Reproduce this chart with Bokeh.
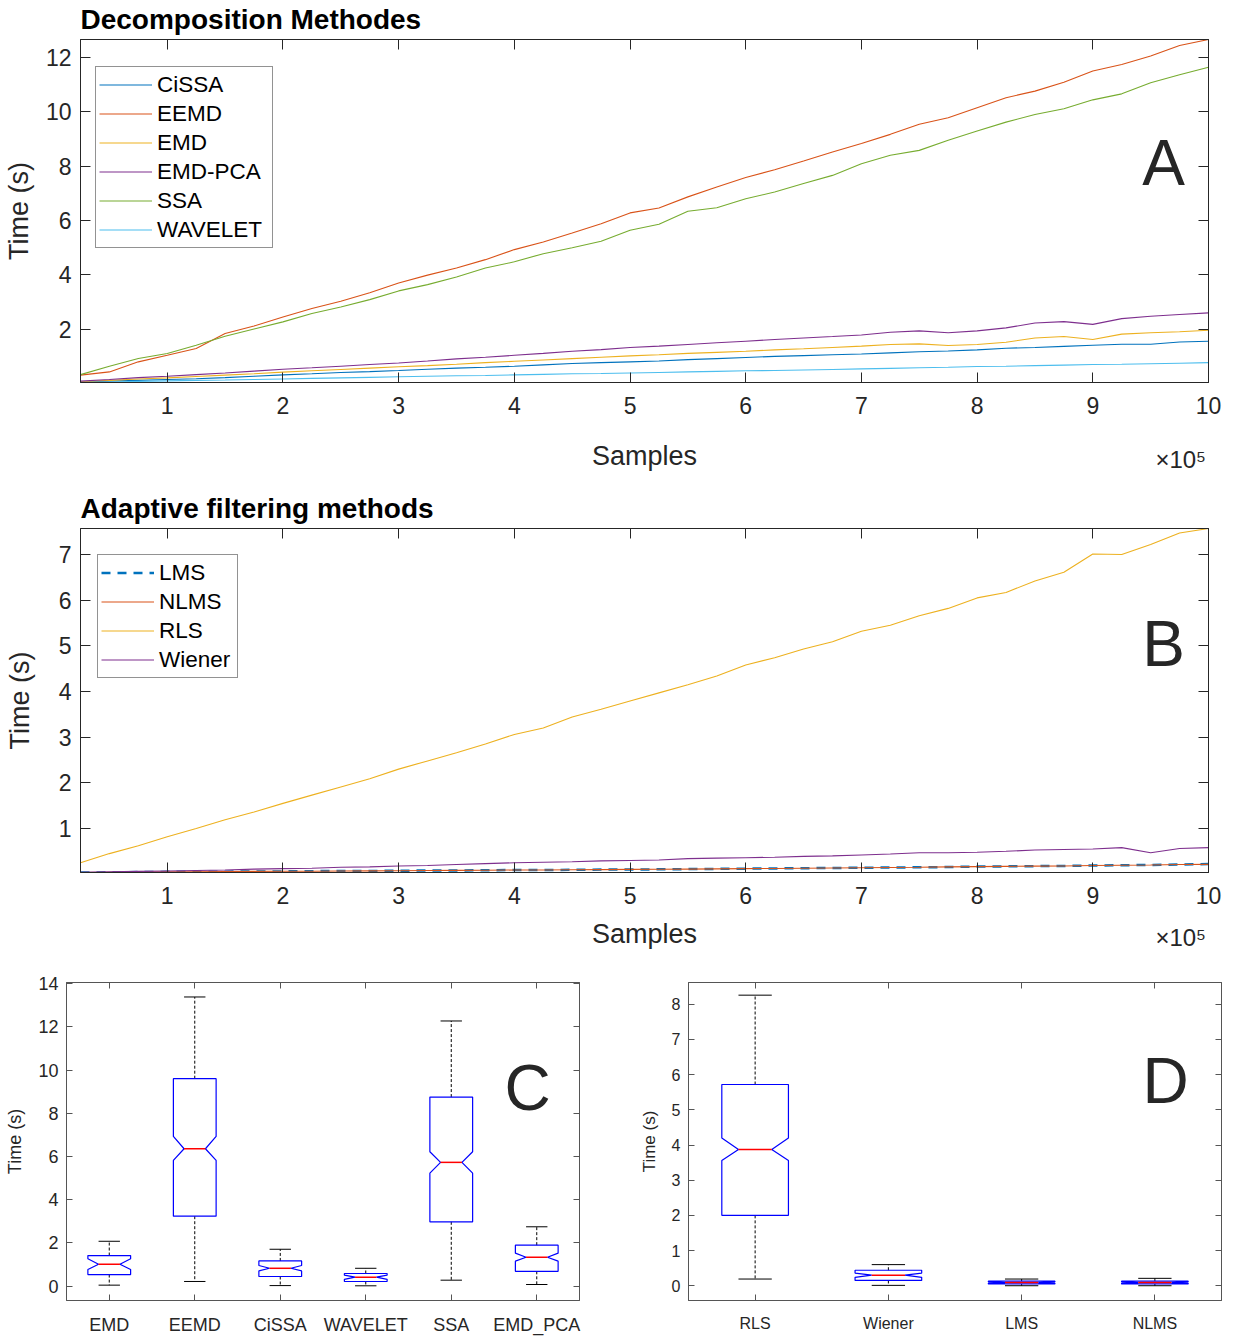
from bokeh.plotting import figure
from bokeh.models import (Range1d, LinearAxis, FixedTicker, Legend, LegendItem, Label,
                          CustomLabelingPolicy)
from bokeh.layouts import column, row
from bokeh.embed import file_html
from bokeh.resources import INLINE

# ---------------- data ----------------
samples = list(range(25000, 1000001, 25000))  # 0.25e5 ... 10e5

cissa = [0.06,0.09,0.12,0.15,0.18,0.22,0.27,0.32,0.36,0.41,0.44,0.48,0.53,0.57,0.60,0.64,0.69,0.74,0.77,0.80,
         0.83,0.88,0.92,0.96,1.00,1.03,1.06,1.09,1.13,1.17,1.20,1.24,1.30,1.33,1.37,1.41,1.45,1.45,1.53,1.56]
eemd = [0.31,0.43,0.80,1.04,1.29,1.84,2.12,2.45,2.76,3.03,3.34,3.70,3.99,4.25,4.56,4.93,5.21,5.54,5.88,6.28,
        6.46,6.87,7.23,7.58,7.87,8.19,8.52,8.83,9.17,9.54,9.78,10.15,10.52,10.76,11.09,11.50,11.74,12.05,12.44,12.66]
emd = [0.07,0.12,0.17,0.21,0.26,0.31,0.36,0.42,0.47,0.52,0.57,0.62,0.66,0.71,0.77,0.82,0.87,0.92,0.97,1.02,
       1.06,1.11,1.15,1.19,1.24,1.28,1.33,1.38,1.44,1.46,1.40,1.44,1.52,1.68,1.73,1.62,1.82,1.87,1.91,1.96]
emd_pca = [0.09,0.15,0.22,0.27,0.33,0.39,0.46,0.53,0.58,0.64,0.70,0.76,0.83,0.91,0.97,1.04,1.11,1.19,1.25,1.33,
           1.38,1.44,1.50,1.56,1.62,1.68,1.73,1.79,1.89,1.94,1.87,1.94,2.05,2.23,2.28,2.18,2.39,2.48,2.54,2.60]
ssa = [0.33,0.64,0.92,1.11,1.41,1.74,2.01,2.27,2.58,2.82,3.09,3.41,3.64,3.92,4.25,4.48,4.78,5.00,5.24,5.64,
       5.86,6.34,6.47,6.80,7.05,7.36,7.66,8.09,8.40,8.58,8.95,9.29,9.62,9.90,10.11,10.44,10.66,11.07,11.36,11.64]
wavelet = [0.04,0.06,0.08,0.10,0.12,0.13,0.15,0.17,0.19,0.21,0.23,0.25,0.27,0.29,0.30,0.32,0.34,0.36,0.37,0.39,
           0.41,0.43,0.45,0.47,0.48,0.50,0.52,0.54,0.56,0.58,0.60,0.63,0.64,0.66,0.68,0.70,0.71,0.73,0.75,0.77]

lms = [0.036,0.04,0.045,0.05,0.05,0.055,0.06,0.06,0.065,0.07,0.07,0.075,0.08,0.08,0.085,0.09,0.09,0.095,0.10,0.10,
       0.105,0.11,0.115,0.12,0.125,0.13,0.135,0.14,0.145,0.15,0.155,0.165,0.17,0.175,0.18,0.19,0.195,0.20,0.21,0.22]
nlms = [0.037,0.04,0.045,0.05,0.052,0.055,0.06,0.062,0.065,0.07,0.072,0.075,0.08,0.082,0.085,0.09,0.092,0.095,0.10,0.105,
        0.107,0.11,0.115,0.12,0.125,0.13,0.135,0.14,0.145,0.15,0.16,0.165,0.17,0.175,0.18,0.19,0.195,0.20,0.21,0.215]
rls = [0.25,0.45,0.62,0.82,1.00,1.19,1.36,1.55,1.73,1.91,2.09,2.30,2.48,2.66,2.85,3.06,3.20,3.44,3.61,3.79,
       3.97,4.15,4.34,4.58,4.74,4.93,5.09,5.32,5.45,5.66,5.82,6.05,6.17,6.42,6.61,7.01,7.00,7.22,7.47,7.57]
wiener = [0.04,0.05,0.06,0.07,0.08,0.09,0.11,0.12,0.13,0.15,0.16,0.18,0.19,0.21,0.23,0.25,0.26,0.27,0.29,0.30,
          0.31,0.34,0.35,0.36,0.37,0.39,0.40,0.42,0.44,0.47,0.47,0.48,0.50,0.53,0.54,0.55,0.58,0.47,0.56,0.58]

x_tick_values = [100000, 200000, 300000, 400000, 500000, 600000, 700000, 800000, 900000, 1000000]
x_tick_labels = ["1", "2", "3", "4", "5", "6", "7", "8", "9", "10"]
x_exponent_label = "\u00d710\u2075"
ya_ticks = [2, 4, 6, 8, 10, 12]
yb_ticks = [1, 2, 3, 4, 5, 6, 7]

c_names = ["EMD", "EEMD", "CiSSA", "WAVELET", "SSA", "EMD_PCA"]
c_whi = [2.08, 13.38, 1.71, 0.83, 12.27, 2.75]
c_q3 = [1.42, 9.60, 1.17, 0.59, 8.75, 1.90]
c_nhi = [1.27, 6.93, 0.96, 0.51, 6.22, 1.53]
c_med = [1.02, 6.36, 0.83, 0.42, 5.73, 1.34]
c_nlo = [0.77, 5.82, 0.71, 0.32, 5.23, 1.16]
c_q1 = [0.54, 3.24, 0.45, 0.22, 2.98, 0.69]
c_wlo = [0.05, 0.22, 0.03, 0.02, 0.28, 0.08]
c_yticks = [0, 2, 4, 6, 8, 10, 12, 14]

d_names = ["RLS", "Wiener", "LMS", "NLMS"]
d_whi = [8.26, 0.60, 0.19, 0.21]
d_q3 = [5.72, 0.44, 0.13, 0.13]
d_nhi = [4.20, 0.36, 0.11, 0.11]
d_med = [3.87, 0.30, 0.09, 0.09]
d_nlo = [3.56, 0.24, 0.07, 0.07]
d_q1 = [2.00, 0.15, 0.05, 0.05]
d_wlo = [0.19, 0.01, 0.00, 0.00]
d_yticks = [0, 1, 2, 3, 4, 5, 6, 7, 8]

# ---------------- styling helpers ----------------
FONT = "Liberation Sans"
AXC = "#262626"
C1, C2, C3, C4, C5, C6 = "#0072BD", "#D95319", "#EDB120", "#7E2F8E", "#77AC30", "#4DBEEE"


def style_axis(ax, size, tick_in, standoff, color=AXC):
    ax.major_tick_in = tick_in
    ax.major_tick_out = 0
    ax.minor_tick_line_color = None
    ax.axis_line_color = color
    ax.major_tick_line_color = color
    ax.major_label_text_font = FONT
    ax.major_label_text_font_size = size
    ax.major_label_text_color = AXC
    ax.major_label_standoff = standoff


def hidden_axis(p, side, ticks, tick_in, color=AXC):
    ax = LinearAxis(ticker=FixedTicker(ticks=ticks))
    ax.major_label_policy = CustomLabelingPolicy(code="return new Set()")
    ax.major_label_text_font_size = "1px"
    ax.major_label_standoff = 0
    ax.major_tick_in = tick_in
    ax.major_tick_out = 0
    ax.minor_tick_line_color = None
    ax.axis_line_color = color
    ax.major_tick_line_color = color
    p.add_layout(ax, side)


def line_figure(title, height, top, bottom, ys, yticks, ylab_standoff, xlab_standoff):
    lo = min(min(s) for s in ys)
    hi = max(max(s) for s in ys)
    p = figure(width=1241, height=height, output_backend="svg", toolbar_location=None,
               x_range=Range1d(samples[0], samples[-1]), y_range=Range1d(lo, hi),
               min_border_left=80, min_border_right=33, min_border_top=top, min_border_bottom=bottom,
               title=title)
    p.title.text_font = FONT
    p.title.text_font_size = "28px"
    p.title.text_font_style = "bold"
    p.title.text_color = "black"
    p.title.text_line_height = 1.0
    p.title.align = "left"
    p.title.offset = 0
    p.title.standoff = 1
    p.xgrid.visible = False
    p.ygrid.visible = False
    p.outline_line_color = AXC
    p.background_fill_color = "white"
    p.border_fill_color = "white"
    xa = p.xaxis[0]
    xa.ticker = FixedTicker(ticks=x_tick_values)
    xa.major_label_overrides = {v: l for v, l in zip(x_tick_values, x_tick_labels)}
    style_axis(xa, "23px", 10, 14)
    xa.axis_label = "Samples"
    xa.axis_label_text_font = FONT
    xa.axis_label_text_font_size = "27px"
    xa.axis_label_text_font_style = "normal"
    xa.axis_label_text_color = AXC
    xa.axis_label_standoff = xlab_standoff
    ya = p.yaxis[0]
    ya.ticker = FixedTicker(ticks=yticks)
    style_axis(ya, "23px", 10, 9)
    ya.axis_label = "Time (s)"
    ya.axis_label_text_font = FONT
    ya.axis_label_text_font_size = "27px"
    ya.axis_label_text_font_style = "normal"
    ya.axis_label_text_color = AXC
    ya.axis_label_standoff = ylab_standoff
    hidden_axis(p, "above", x_tick_values, 10)
    hidden_axis(p, "right", yticks, 10)
    # exponent "x10^5" drawn as the only label of a tick-less secondary axis
    ex = LinearAxis(ticker=FixedTicker(ticks=[976000]))
    ex.major_label_overrides = {976000: x_exponent_label}
    ex.major_label_text_font = FONT
    ex.major_label_text_font_size = "24px"
    ex.major_label_text_color = AXC
    ex.major_label_standoff = -28
    ex.major_tick_in = 0
    ex.major_tick_out = 0
    ex.major_tick_line_color = None
    ex.minor_tick_line_color = None
    ex.axis_line_color = None
    p.add_layout(ex, "below")
    return p


def make_legend(items, loc, label_width):
    return Legend(items=items, location=loc, orientation="vertical",
                  label_text_font=FONT, label_text_font_size="22.5px", label_text_color="black",
                  glyph_width=53, glyph_height=29, label_height=29, label_width=label_width,
                  label_standoff=5, spacing=0, padding=3, margin=0,
                  border_line_color=AXC, border_line_width=1, background_fill_alpha=1,
                  background_fill_color="white", click_policy="none")


# ---------------- panel A ----------------
pa = line_figure("Decomposition Methodes", 490, 39, 108,
                 [cissa, eemd, emd, emd_pca, ssa, wavelet], ya_ticks, 9, 24)
series_a = [("CiSSA", cissa, C1), ("EEMD", eemd, C2), ("EMD", emd, C3),
            ("EMD-PCA", emd_pca, C4), ("SSA", ssa, C5), ("WAVELET", wavelet, C6)]
items_a = []
for name, ys, col in series_a:
    r = pa.line(samples, ys, line_color=col, line_width=1.1)
    items_a.append(LegendItem(label=name, renderers=[r]))
pa.add_layout(make_legend(items_a, (15, 343 - 29 - 180), 112), "center")
pa.add_layout(Label(x=1083, y=220, x_units="screen", y_units="screen", text="A",
                    text_font=FONT, text_font_size="64px", text_color=AXC,
                    text_align="center", text_baseline="alphabetic"))

# ---------------- panel B ----------------
pb = line_figure("Adaptive filtering methods", 478, 38, 96,
                 [lms, nlms, rls, wiener], yb_ticks, 21, 12)
items_b = []
r = pb.line(samples, lms, line_color=C1, line_width=2.5, line_dash="9 7")
items_b.append(LegendItem(label="LMS", renderers=[r]))
r = pb.line(samples, nlms, line_color=C2, line_width=1.1)
items_b.append(LegendItem(label="NLMS", renderers=[r]))
r = pb.line(samples, rls, line_color=C3, line_width=1.1)
items_b.append(LegendItem(label="RLS", renderers=[r]))
r = pb.line(samples, wiener, line_color=C4, line_width=1.1)
items_b.append(LegendItem(label="Wiener", renderers=[r]))
pb.add_layout(make_legend(items_b, (17, 344 - 28 - 122), 75), "center")
pb.add_layout(Label(x=1083, y=229, x_units="screen", y_units="screen", text="B",
                    text_font=FONT, text_font_size="64px", text_color=AXC,
                    text_align="center", text_baseline="alphabetic"))

# ---------------- box panels ----------------
BOXAX = "#555555"


def box_figure(width, left, right, top, bottom, names, ylo, yhi, yticks, font_px, ylabel_px):
    n = len(names)
    pos = list(range(1, n + 1))
    p = figure(width=width, height=370, output_backend="svg", toolbar_location=None,
               x_range=Range1d(0.5, n + 0.5), y_range=Range1d(ylo, yhi),
               min_border_left=left, min_border_right=right, min_border_top=top,
               min_border_bottom=bottom)
    p.xgrid.visible = False
    p.ygrid.visible = False
    p.outline_line_color = BOXAX
    xa = p.xaxis[0]
    xa.ticker = FixedTicker(ticks=pos)
    xa.major_label_overrides = {i: nm for i, nm in zip(pos, names)}
    style_axis(xa, font_px, 6, 14, BOXAX)
    ya = p.yaxis[0]
    ya.ticker = FixedTicker(ticks=yticks)
    style_axis(ya, font_px, 6, 8, BOXAX)
    ya.axis_label = "Time (s)"
    ya.axis_label_text_font = FONT
    ya.axis_label_text_font_size = ylabel_px
    ya.axis_label_text_font_style = "normal"
    ya.axis_label_text_color = AXC
    ya.axis_label_standoff = 10
    hidden_axis(p, "above", pos, 6, BOXAX)
    hidden_axis(p, "right", yticks, 6, BOXAX)
    return p, pos


def draw_boxes(p, pos, wlo, q1, nlo, med, nhi, q3, whi):
    hw, nw = 0.25, 0.125
    p.segment(x0=pos, y0=q3, x1=pos, y1=whi, line_color="black", line_width=1, line_dash="3 2")
    p.segment(x0=pos, y0=q1, x1=pos, y1=wlo, line_color="black", line_width=1, line_dash="3 2")
    p.segment(x0=[x - nw for x in pos], y0=whi, x1=[x + nw for x in pos], y1=whi,
              line_color="black", line_width=1)
    p.segment(x0=[x - nw for x in pos], y0=wlo, x1=[x + nw for x in pos], y1=wlo,
              line_color="black", line_width=1)
    xs, ys = [], []
    for i, x in enumerate(pos):
        xs.append([x - hw, x + hw, x + hw, x + nw, x + hw, x + hw, x - hw, x - hw, x - nw, x - hw])
        ys.append([q1[i], q1[i], nlo[i], med[i], nhi[i], q3[i], q3[i], nhi[i], med[i], nlo[i]])
    p.patches(xs, ys, fill_alpha=0, line_color="#0000FF", line_width=1.2)
    p.segment(x0=[x - nw for x in pos], y0=med, x1=[x + nw for x in pos], y1=med,
              line_color="#FF0000", line_width=1.5)


pc, pos_c = box_figure(620, 66, 41, 14, 38, c_names, -0.66, 14.05, c_yticks, "18px", "18px")
draw_boxes(pc, pos_c, c_wlo, c_q1, c_nlo, c_med, c_nhi, c_q3, c_whi)
pc.add_layout(Label(x=461, y=213, x_units="screen", y_units="screen", text="C",
                    text_font=FONT, text_font_size="64px", text_color=AXC,
                    text_align="center", text_baseline="alphabetic"))

pd, pos_d = box_figure(621, 68, 20, 11, 31, d_names, -0.42, 8.62, d_yticks, "16px", "17px")
draw_boxes(pd, pos_d, d_wlo, d_q1, d_nlo, d_med, d_nhi, d_q3, d_whi)
pd.add_layout(Label(x=477, y=220, x_units="screen", y_units="screen", text="D",
                    text_font=FONT, text_font_size="64px", text_color=AXC,
                    text_align="center", text_baseline="alphabetic"))

layout = column(pa, pb, row(pc, pd, spacing=0), spacing=0)
open("out.html", "w").write(file_html(layout, INLINE))
